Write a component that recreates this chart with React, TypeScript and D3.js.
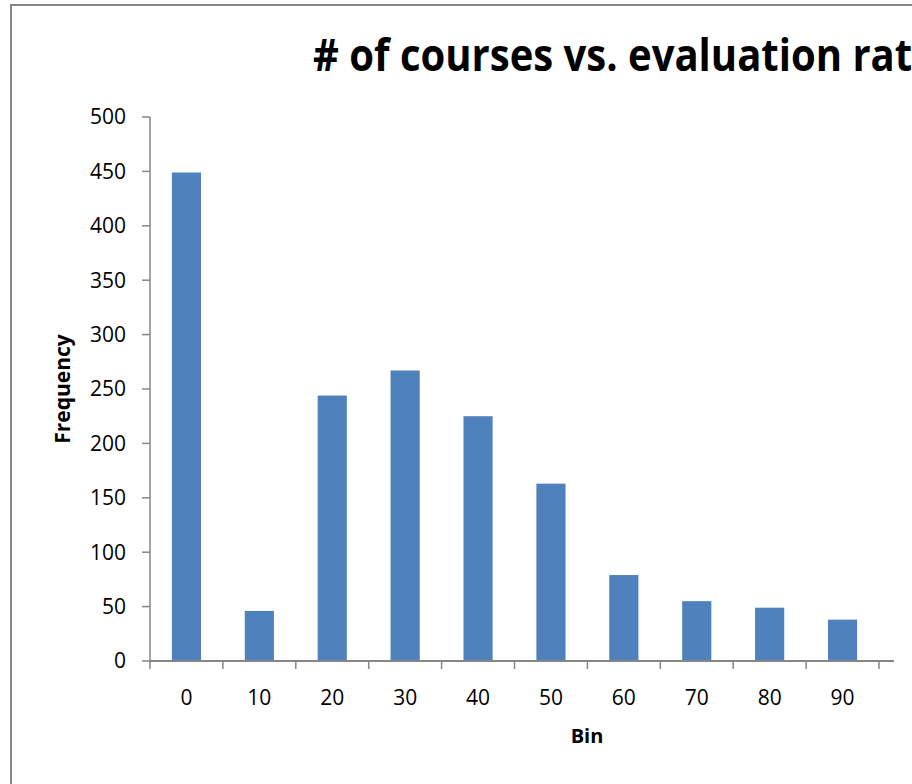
import React from 'react'
import * as d3 from 'd3'

// bins and frequencies
const bins = ['0', '10', '20', '30', '40', '50', '60', '70', '80', '90']
const frequency = [449, 46, 244, 267, 225, 163, 79, 55, 49, 38]
const yTicks = [0, 50, 100, 150, 200, 250, 300, 350, 400, 450, 500]

const title = '# of courses vs. evaluation rating'
const xTitle = 'Bin'
const yTitle = 'Frequency'

const W = 912
const H = 784
const left = 150
const right = 879
const top = 117
const bottom = 661

const font = '"Open Sans", "DejaVu Sans", sans-serif'
const axisColor = '#868686'
const barColor = '#4F81BD'

export default function App() {
  // band scale for the bins, 150% gap like the original spreadsheet chart
  const x = d3.scaleBand<string>().domain(bins).range([left, right]).paddingInner(0.6).paddingOuter(0.3)
  const y = d3.scaleLinear().domain([0, 500]).range([bottom, top])
  const step = x.step()
  const boundaries = d3.range(bins.length + 1).map(i => left + i * step)

  return (
    <svg
      width={W}
      height={H}
      style={{ position: 'absolute', left: 0, top: 0, background: '#fff' }}
      fontFamily={font}
    >
      <rect x={11} y={5} width={W + 20} height={H + 20} fill="#fff" stroke={axisColor} strokeWidth={2} />

      {/* the reference is cropped on the right, so the title runs off the edge */}
      <text
        x={313}
        y={71}
        fontSize={44}
        fontWeight="bold"
        transform="translate(313,0) scale(0.91,1) translate(-313,0)"
      >
        {title}
      </text>

      {/* bars */}
      <g>
        {frequency.map((v, i) => (
          <rect
            key={bins[i]}
            x={x(bins[i])}
            y={y(v)}
            width={x.bandwidth()}
            height={bottom - y(v)}
            fill={barColor}
          />
        ))}
      </g>

      {/* y axis */}
      <g>
        <line x1={left} x2={left} y1={top} y2={bottom} stroke={axisColor} strokeWidth={1.5} />
        {yTicks.map(t => (
          <g key={t}>
            <line x1={left - 8} x2={left} y1={y(t)} y2={y(t)} stroke={axisColor} strokeWidth={1.5} />
            <text x={126} y={y(t)} dy="0.35em" textAnchor="end" fontSize={21}>
              {t}
            </text>
          </g>
        ))}
      </g>

      {/* x axis */}
      <g>
        <line x1={left} x2={894} y1={bottom} y2={bottom} stroke={axisColor} strokeWidth={2} />
        {boundaries.map((b, i) => (
          <line key={i} x1={b} x2={b} y1={bottom} y2={bottom + 8} stroke={axisColor} strokeWidth={1.5} />
        ))}
        {bins.map(b => (
          <text key={b} x={(x(b) ?? 0) + x.bandwidth() / 2} y={705} textAnchor="middle" fontSize={21}>
            {b}
          </text>
        ))}
      </g>

      <text x={587} y={743} textAnchor="middle" fontSize={20} fontWeight="bold">
        {xTitle}
      </text>
      <text
        transform="translate(70,389) rotate(-90)"
        textAnchor="middle"
        fontSize={21}
        fontWeight="bold"
      >
        {yTitle}
      </text>
    </svg>
  )
}
